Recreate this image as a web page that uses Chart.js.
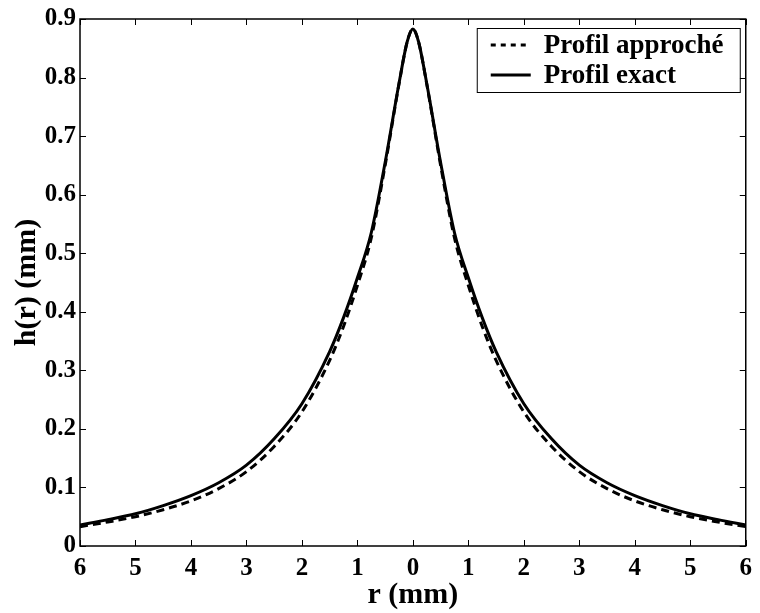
<!DOCTYPE html>
<html>
<head>
<meta charset="utf-8">
<script src="https://cdn.jsdelivr.net/npm/chart.js@4.4.1/dist/chart.umd.min.js"></script>
<style>
  body { margin: 0; background: #fff; }
  #wrap { width: 760px; height: 613px; }
</style>
</head>
<body>
<div id="wrap"><canvas id="chart"></canvas></div>
<script>
// r in mm (negative side mirrors the positive side)
var rValues = [-6, -5.5, -5, -4.5, -4, -3.5, -3, -2.5, -2, -1.5, -1.25, -1, -0.75, -0.5, -0.25, -0.1,
               0, 0.1, 0.25, 0.5, 0.75, 1, 1.25, 1.5, 2, 2.5, 3, 3.5, 4, 4.5, 5, 5.5, 6];
var hApproche = [0.033, 0.041, 0.050, 0.062, 0.077, 0.098, 0.127, 0.170, 0.229, 0.317, 0.375, 0.445, 0.526, 0.650, 0.789, 0.862,
                 0.883, 0.862, 0.789, 0.650, 0.526, 0.445, 0.375, 0.317, 0.229, 0.170, 0.127, 0.098, 0.077, 0.062, 0.050, 0.041, 0.033];
var hExact = [0.036, 0.045, 0.055, 0.069, 0.086, 0.108, 0.138, 0.183, 0.243, 0.332, 0.390, 0.458, 0.535, 0.655, 0.790, 0.862,
              0.883, 0.862, 0.790, 0.655, 0.535, 0.458, 0.390, 0.332, 0.243, 0.183, 0.138, 0.108, 0.086, 0.069, 0.055, 0.045, 0.036];
var seriesLabels = ["Profil approché", "Profil exact"];
var xTitle = "r (mm)";
var yTitle = "h(r) (mm)";

var FONT = "'Liberation Serif', 'Times New Roman', serif";

function toPoints(xs, ys) {
  var pts = [];
  for (var i = 0; i < xs.length; i++) pts.push({x: xs[i], y: ys[i]});
  return pts;
}

// frame with inward ticks on all four sides
var framePlugin = {
  id: 'frame',
  afterDraw: function (chart) {
    var ctx = chart.ctx, a = chart.chartArea;
    var xs = chart.scales.x, ys = chart.scales.y;
    ctx.save();
    ctx.strokeStyle = '#000';
    ctx.lineWidth = 1;
    ctx.beginPath();
    xs.ticks.forEach(function (t) {
      var px = Math.round(xs.getPixelForValue(t.value)) + 0.5;
      ctx.moveTo(px, a.bottom); ctx.lineTo(px, a.bottom - 6);
      ctx.moveTo(px, a.top); ctx.lineTo(px, a.top + 6);
    });
    ys.ticks.forEach(function (t) {
      var py = Math.round(ys.getPixelForValue(t.value)) + 0.5;
      ctx.moveTo(a.left, py); ctx.lineTo(a.left + 6, py);
      ctx.moveTo(a.right, py); ctx.lineTo(a.right - 6, py);
    });
    ctx.stroke();
    ctx.lineWidth = 1.5;
    ctx.strokeRect(a.left, a.top, a.right - a.left, a.bottom - a.top);
    ctx.restore();
  }
};

// legend box in the top right corner
var legendPlugin = {
  id: 'boxLegend',
  afterDraw: function (chart) {
    var ctx = chart.ctx, a = chart.chartArea;
    var w = 263, h = 64;
    var x0 = a.right - 6 - w, y0 = a.top + 9;
    ctx.save();
    ctx.fillStyle = '#fff';
    ctx.fillRect(x0, y0, w, h);
    ctx.strokeStyle = '#000';
    ctx.lineWidth = 1;
    ctx.strokeRect(x0 + 0.5, y0 + 0.5, w, h);
    chart.data.datasets.forEach(function (ds, i) {
      var cy = y0 + 17 + i * 30;
      ctx.beginPath();
      ctx.setLineDash(ds.borderDash ? [5, 5] : []);
      ctx.lineWidth = ds.borderWidth;
      ctx.moveTo(x0 + 14, cy);
      ctx.lineTo(x0 + 54, cy);
      ctx.stroke();
      ctx.setLineDash([]);
      ctx.fillStyle = '#000';
      ctx.font = "bold 27px " + FONT;
      ctx.textBaseline = 'middle';
      ctx.fillText(ds.label, x0 + 67, cy + 1);
    });
    ctx.restore();
  }
};

new Chart(document.getElementById("chart"), {
  type: 'line',
  data: {
    datasets: [{
      label: seriesLabels[0],
      data: toPoints(rValues, hApproche),
      borderColor: '#000',
      borderWidth: 3,
      borderDash: [8, 5],
      pointRadius: 0,
      cubicInterpolationMode: 'monotone',
      fill: false
    }, {
      label: seriesLabels[1],
      data: toPoints(rValues, hExact),
      borderColor: '#000',
      borderWidth: 3,
      pointRadius: 0,
      cubicInterpolationMode: 'monotone',
      fill: false
    }]
  },
  options: {
    responsive: true,
    maintainAspectRatio: false,
    animation: false,
    layout: { padding: { top: 19, right: 11, left: 0, bottom: 0 } },
    plugins: {
      legend: { display: false },
      tooltip: { enabled: false }
    },
    scales: {
      x: {
        type: 'linear',
        min: -6,
        max: 6,
        afterFit: function (scale) { scale.height = 67; },
        grid: { display: false, drawTicks: false },
        border: { display: false },
        ticks: {
          stepSize: 1,
          padding: 8,
          color: '#000',
          font: { family: FONT, size: 25, weight: 'bold' },
          maxRotation: 0,
          callback: function (value) { return String(Math.abs(value)); }
        },
        title: {
          display: true,
          text: xTitle,
          color: '#000',
          font: { family: FONT, size: 30, weight: 'bold' },
          padding: { top: 0, bottom: 0 }
        }
      },
      y: {
        min: 0,
        max: 0.9,
        afterFit: function (scale) { scale.width = 80; },
        grid: { display: false, drawTicks: false },
        border: { display: false },
        ticks: {
          stepSize: 0.1,
          padding: 4,
          color: '#000',
          font: { family: FONT, size: 25, weight: 'bold' },
          callback: function (value) { return String(Number(value.toFixed(1))); }
        },
        title: {
          display: true,
          text: yTitle,
          color: '#000',
          font: { family: FONT, size: 30, weight: 'bold' },
          padding: { top: 9, bottom: 0 }
        }
      }
    }
  },
  plugins: [framePlugin, legendPlugin]
});
</script>
</body>
</html>
